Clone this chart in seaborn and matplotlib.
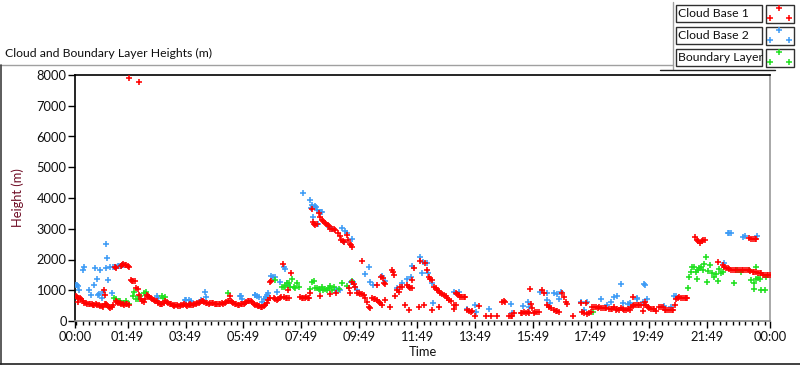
import numpy as np
import pandas as pd
import matplotlib
matplotlib.use("Agg")
import matplotlib.pyplot as plt
from matplotlib.lines import Line2D
from matplotlib.patches import Rectangle
from matplotlib.ticker import FixedLocator, FixedFormatter
import seaborn as sns

# ---- data (time in hours since 00:00, height in m) ----
cb1_t = [0.03, 0.07, 0.12, 0.17, 0.10, 0.22, 0.27, 0.32, 0.37, 0.42, 0.47, 0.52, 0.57, 0.62,
         0.67, 0.72, 0.77, 0.82, 0.87, 0.92, 0.97, 1.02, 1.07, 1.12, 1.17, 1.22, 1.27, 1.32,
         1.00, 1.05,
         1.38, 1.42, 1.58, 1.62, 1.67, 1.72, 1.77, 1.82, 1.85,
         1.40, 1.45, 1.50, 1.55, 1.60, 1.65, 1.70, 1.75, 1.80, 1.85,
         1.87, 2.22,
         1.92, 1.97, 2.02, 2.07, 2.12, 2.17,
         2.22, 2.27, 2.32, 2.37, 2.42, 2.47, 2.52, 2.57, 2.62, 2.67, 2.72, 2.77, 2.82, 2.87,
         2.92, 2.97, 3.02, 3.07, 3.12, 3.17, 3.22, 3.27, 3.32, 3.37, 3.42, 3.47, 3.52, 3.57,
         3.62, 3.67, 3.72, 3.77, 3.82, 3.87, 3.92, 3.97, 4.02, 4.07, 4.12, 4.17, 4.22, 4.27,
         4.32, 4.37, 4.42, 4.47, 4.52, 4.57, 4.62, 4.67, 4.72, 4.77, 4.82, 4.87, 4.92, 4.97,
         5.02, 5.07, 5.12, 5.17, 5.22, 5.27, 5.32, 5.35, 5.37, 5.42, 5.47, 5.52, 5.57, 5.62,
         5.67, 5.72, 5.77, 5.82, 5.87, 5.92, 5.97, 6.02, 6.07, 6.12, 6.17, 6.22, 6.27, 6.32,
         6.37, 6.42, 6.47, 6.52, 6.57, 6.62, 6.67, 6.72, 6.74, 6.78, 6.87, 6.92, 6.97, 7.02,
         7.07, 7.12, 7.17, 7.22, 7.27, 7.32, 7.35, 7.40, 7.46,
         7.78, 7.83, 7.88, 7.93, 7.98, 8.03, 8.07, 8.10,
         8.18, 8.22, 8.27, 8.30, 8.35, 8.41, 8.47, 8.53, 8.58, 8.63, 8.68, 8.73, 8.76, 8.82,
         8.87, 8.93, 8.99, 9.07, 9.14, 9.20, 9.25, 9.30, 9.39, 9.42, 9.48, 9.52, 9.57,
         8.47, 8.80, 9.02, 9.45, 9.50, 9.57, 9.62, 9.68, 9.74, 9.80, 9.85, 9.91, 9.91, 9.97,
         10.03, 10.08, 10.14, 10.20, 10.26, 10.31, 10.37, 10.43, 10.43, 10.49, 10.54, 10.60,
         10.57, 10.62, 10.66, 10.72, 10.72, 10.87, 10.95, 10.99, 11.03, 11.04, 11.12, 11.18,
         11.24, 11.29, 11.38, 11.47, 11.52, 11.58, 11.64, 11.64, 11.55, 11.70, 11.87, 11.93,
         12.04, 12.10, 12.16, 12.22, 12.27, 12.33, 12.33, 12.39, 12.45, 12.50, 12.56, 12.56,
         12.62, 12.68, 12.74, 12.80, 12.86, 12.91, 12.97,
         13.08, 13.14, 13.10, 13.14, 13.20, 13.25, 13.31, 13.37, 13.43, 13.48,
         13.55, 13.60, 13.66, 13.72, 13.83, 13.95, 14.18, 14.35, 14.58, 14.75, 14.80, 14.85,
         14.98, 15.04, 15.10, 15.15, 15.39, 15.45, 15.51, 15.57, 15.63, 15.68, 15.71, 15.75,
         15.79, 15.84, 15.90, 15.96, 16.02, 16.13, 16.19, 16.31, 16.37, 16.45, 16.54, 16.60,
         16.66, 16.72, 16.83, 16.89, 16.94, 17.00, 17.21, 17.46, 17.63, 17.52, 17.58, 17.69,
         17.75, 17.81, 17.87, 17.93, 17.99, 18.05, 18.11, 18.17, 18.23, 18.29, 18.35, 18.44,
         18.50, 18.56, 18.62, 18.68, 18.72, 18.78, 18.85, 18.91, 18.97, 19.03, 19.09, 19.15,
         19.20, 19.26, 19.27, 19.32, 19.37, 19.43, 19.49, 19.55, 19.60, 19.66, 19.70, 19.72,
         19.77, 19.83, 19.89, 19.95, 20.00, 20.06, 20.18, 20.24, 20.30, 20.36, 20.42, 20.48,
         20.54, 20.60, 20.66, 20.72, 20.75, 20.81, 20.87, 20.93, 20.99, 21.05, 21.11, 21.15,
         21.41, 21.47, 21.53, 21.59, 21.65, 21.70, 21.75,
         22.22, 22.37, 22.42, 22.48, 22.54, 22.60, 22.66, 22.72, 22.78, 22.84, 22.90, 22.96,
         23.02, 23.08, 23.14, 23.20, 23.26, 23.32, 23.40, 23.46, 23.52, 23.58, 23.64, 23.70,
         23.76, 23.82, 23.88, 23.94, 23.99,
         23.29, 23.35, 23.41, 23.47, 23.52]
cb1_h = [820, 790, 760, 740, 630, 700, 640, 600, 580, 560, 560, 540, 550, 520,
         530, 560, 520, 510, 500, 480, 470, 540, 560, 510, 460, 430, 450, 520,
         1000, 860,
         1750, 1720, 1800, 1820, 1840, 1830, 1810, 1780, 1760,
         650, 620, 600, 590, 560, 540, 520, 550, 540, 530,
         7890, 7760,
         1320, 1300, 1300, 1290, 1080, 1050,
         850, 700, 650, 630, 700, 860, 820, 780, 760, 720, 680, 650, 640, 600,
         560, 540, 560, 600, 650, 620, 580, 560, 540, 520, 500, 520, 530, 500,
         490, 510, 520, 540, 520, 500, 520, 540, 530, 520, 540, 560, 580, 600,
         620, 650, 640, 620, 600, 580, 560, 580, 600, 580, 560, 550, 560, 540,
         560, 570, 560, 580, 620, 640, 650, 800, 640, 620, 600, 560, 540, 520,
         530, 540, 550, 560, 580, 620, 650, 660, 640, 620, 560, 520, 520, 500,
         480, 470, 460, 480, 520, 600, 680, 740, 1280, 1310, 740, 700, 680, 720,
         740, 770, 1840, 780, 760, 750, 1010, 760, 1550,
         780, 760, 740, 750, 770, 760, 740, 920,
         3630, 3230, 3150, 3120, 3140, 3500, 3390, 3300, 3250, 3200, 3170, 3130, 3100, 2990,
         2980, 2980, 2970, 2870, 2760, 2640, 2600, 2580, 2800, 2630, 2520, 2460, 2410,
         810, 880, 900, 1060, 920, 1280, 1200, 1120, 920, 900, 880, 890, 1950, 850,
         740, 630, 470, 410, 740, 720, 700, 680, 1160, 630, 580, 520,
         1440, 1390, 1220, 1200, 680, 470, 1660, 1580, 1500, 810, 1010, 950,
         1120, 1110, 520, 1170, 1110, 1080, 1060, 1330, 360, 1710, 470, 1940,
         520, 1870, 1660, 1440, 1380, 1330, 360, 1120, 1060, 1000, 960, 470,
         920, 880, 850, 800, 740, 680, 650,
         520, 520, 380, 900, 880, 850, 790, 790, 790, 780,
         360, 330, 300, 310, 160, 490, 160, 160, 160, 630, 640, 630,
         160, 160, 160, 250, 260, 250, 280, 270, 300, 260, 1030, 550,
         430, 270, 290, 280, 300, 1010, 900, 520, 470, 430, 360, 330,
         310, 300, 920, 790, 630, 550, 160, 570, 600, 300, 260, 230,
         250, 300, 470, 450, 440, 430, 440, 420, 430, 420, 410, 380,
         390, 380, 470, 370, 380, 360, 410, 380, 370, 360, 380, 360,
         440, 480, 790, 520, 520, 510, 520, 520, 340, 520, 630, 520,
         440, 420, 400, 380, 380, 340, 440, 450, 440, 360, 360, 350,
         360, 360, 370, 520, 700, 740, 770, 760, 750, 760, 750, 750,
         2720, 2640, 2600, 2550, 2600, 2630, 2650,
         1930, 1820, 1770, 1730, 1710, 1680, 1670, 1660, 1660, 1650, 1660, 1660,
         1650, 1660, 1650, 1650, 1660, 1640, 1600, 1590, 1580, 1570, 1560, 1550,
         1510, 1500, 1490, 1480, 1500,
         2700, 2680, 2670, 2660, 2660]

cb2_t = [0.03, 0.08, 0.12, 0.15, 0.27, 0.32, 0.50, 0.55, 0.66, 0.69, 0.75, 0.78, 0.82, 0.86,
         0.92, 0.98, 1.07, 1.07, 1.12, 1.15, 1.20, 1.27, 1.32, 1.38, 1.43, 1.48, 1.53, 1.58,
         1.63, 1.67,
         2.82, 2.88, 3.80, 3.85, 3.95, 4.00, 4.35, 4.50, 4.52, 5.70, 5.73, 5.75,
         6.20, 6.22, 6.28, 6.34, 6.45, 6.52, 6.58, 6.63, 6.68, 6.78, 6.84, 6.91, 6.97, 7.09,
         7.20, 7.24, 7.32, 7.37, 7.89, 8.12, 8.15, 8.18, 8.22, 8.30, 8.33, 8.36, 8.39, 8.45,
         8.50, 8.53, 8.76, 8.88, 8.99, 9.05, 9.16, 9.22, 9.28, 9.33, 9.39, 9.57, 9.52, 9.60,
         9.68, 9.75, 10.00, 10.14, 10.18, 10.29, 10.60, 10.70, 11.12, 11.29, 11.47, 11.61,
         11.64, 11.90, 11.99, 12.02, 12.14, 12.18, 12.33, 12.37,
         13.08, 13.25, 13.54, 13.83, 13.86, 14.29, 15.04, 15.10, 15.48, 15.64, 15.68, 16.05,
         16.29, 16.31, 16.42, 16.54, 16.65, 16.71, 16.77, 17.46, 17.57, 17.69, 18.15, 18.38,
         18.50, 18.61, 18.71, 18.85, 18.94, 19.08, 19.17, 19.40, 19.42, 19.63, 19.66, 19.70,
         19.75, 20.35, 20.58, 20.70, 20.74,
         22.40, 22.54, 22.60, 22.65, 23.06, 23.12, 23.55]
cb2_h = [1170, 1160, 1150, 1000, 1650, 1760, 1000, 850, 1180, 1720, 1360, 850, 880, 1660,
         760, 950, 2500, 1720, 2040, 1330, 1740, 900, 1750, 1760, 1770, 1780, 1790, 1800,
         1820, 1810,
         800, 760, 690, 680, 670, 660, 680, 930, 780, 820, 800, 720,
         850, 840, 800, 770, 630, 700, 780, 850, 900, 1460, 1440, 1420, 950, 1280,
         1740, 1690, 1220, 1170, 4150, 3930, 3690, 3770, 3370, 3730, 3700, 3610, 3170, 3550,
         3560, 3540, 3070, 2980, 1010, 1010, 1010, 3010, 2580, 2940, 2850, 2660, 1280, 1280,
         1120, 1010, 1520, 1740, 1280, 1170, 1460, 1290, 1060, 1250, 1350, 1440,
         1790, 2070, 1550, 1930, 1870, 1570, 1220, 580,
         950, 950, 380, 520, 300, 380, 550, 270, 490, 630, 440, 950,
         920, 680, 600, 900, 880, 700, 950, 630, 360, 630, 700, 520,
         630, 790, 820, 1200, 600, 560, 570, 720, 740, 630, 1200, 1180,
         710, 490, 440, 810, 820,
         1870, 2870, 2870, 2860, 2740, 2760, 2760]

bl_t = [1.35, 1.40, 1.52, 1.57, 1.70, 1.75, 1.85, 2.00, 2.05, 2.12, 2.17, 2.25, 2.37, 2.45,
        3.00, 3.05, 3.10, 5.27,
        6.91, 7.14, 7.20, 7.26, 7.32, 7.38, 7.43, 7.49, 7.55, 7.60, 7.66, 7.72, 8.10, 8.18,
        8.24, 8.30, 8.35, 8.41, 8.47, 8.53, 8.58, 8.64, 8.70, 8.76, 8.82, 8.87, 8.93, 9.10,
        9.22, 9.39, 9.57, 17.90,
        21.18, 21.21, 21.27, 21.30, 21.36, 21.44, 21.48, 21.52, 21.56, 21.62, 21.67, 21.71,
        21.79, 21.82, 21.87, 21.94, 21.98, 22.08, 22.13, 22.19, 22.25, 22.31, 22.36, 22.77,
        22.86, 23.00, 23.29, 23.35, 23.44, 23.46, 23.52, 23.50, 23.58, 23.67, 23.69, 23.83,
        23.86]
bl_h = [750, 700, 650, 650, 600, 650, 560, 820, 950, 700, 700, 800, 900, 950,
        800, 750, 780, 900,
        1330, 1090, 1120, 1150, 1250, 1250, 1100, 1350, 1120, 1060, 1250, 1090, 1030, 1280,
        1310, 1080, 1060, 1050, 1000, 1100, 1020, 1040, 1000, 1060, 1150, 1010, 1100, 1030,
        1220, 1140, 1310, 300,
        1080, 1440, 1600, 1760, 1760, 1600, 1350, 1660, 1710, 1760, 1660, 1850,
        2070, 1280, 1640, 1820, 1570, 1420, 1530, 1310, 1680, 1550, 1600, 1220,
        1660, 1600, 1660, 1330, 1220, 1030, 1760, 1350, 1390, 1350, 1010, 1010,
        1420]

series = ["Cloud Base 1", "Cloud Base 2", "Boundary Layer"]
colors = {"Cloud Base 1": "#ff0000", "Cloud Base 2": "#3d9bf5", "Boundary Layer": "#1fe01f"}

tick_hours = [0, 1 + 49 / 60] + [h + 49 / 60 for h in range(3, 22, 2)] + [24]
tick_labels = ["00:00", "01:49", "03:49", "05:49", "07:49", "09:49", "11:49",
               "13:49", "15:49", "17:49", "19:49", "21:49", "00:00"]

df = pd.concat([
    pd.DataFrame({"t": cb1_t, "h": cb1_h, "s": "Cloud Base 1"}),
    pd.DataFrame({"t": cb2_t, "h": cb2_h, "s": "Cloud Base 2"}),
    pd.DataFrame({"t": bl_t, "h": bl_h, "s": "Boundary Layer"}),
])

sns.set_style("white")
plt.rcParams["font.family"] = ["Lato", "DejaVu Sans"]
FS = 8.8

W, H = 800, 365
fig = plt.figure(figsize=(W / 100, H / 100), dpi=100)
fig.patch.set_facecolor("white")


def fx(x):
    return x / W


def fy(y):
    return 1 - y / H


ax = fig.add_axes([fx(75), fy(321), (770 - 75) / W, (321 - 75) / H])

# draw order: blue, green, red on top
for name in ["Cloud Base 2", "Boundary Layer", "Cloud Base 1"]:
    sns.scatterplot(data=df[df["s"] == name], x="t", y="h", ax=ax, marker="+",
                    color=colors[name], s=14, linewidth=1.15, legend=False, zorder=3)

ax.set_xlim(0, 24)
ax.set_ylim(0, 8000)
ax.xaxis.set_major_locator(FixedLocator(tick_hours))
ax.xaxis.set_major_formatter(FixedFormatter(tick_labels))
minor = [1 + 49 / 60 + k * 2 / 9 for k in range(-8, 100)]
ax.xaxis.set_minor_locator(FixedLocator([m for m in minor if 0 <= m <= 24]))
ax.set_yticks(range(0, 8001, 1000))
ax.tick_params(axis="x", which="major", direction="out", length=5, width=1,
               color="black", labelsize=FS + 0.5, pad=2, bottom=True)
ax.tick_params(axis="x", which="minor", direction="out", length=3, width=1,
               color="black", bottom=True)
ax.tick_params(axis="y", which="major", direction="out", length=5, width=1,
               color="black", labelsize=FS + 0.5, pad=1, left=True)
for lab in ax.get_xticklabels() + ax.get_yticklabels():
    lab.set_color("#101010")

ax.spines["left"].set_color("black")
ax.spines["top"].set_color("black")
ax.spines["right"].set_color("#9a9a9a")
ax.spines["bottom"].set_color("#8a8a8a")
for sp in ax.spines.values():
    sp.set_linewidth(1.2)

ax.set_xlabel("Time", fontsize=FS + 0.5, color="#101010", labelpad=2)
ax.set_ylabel("Height (m)", fontsize=FS + 0.5, color="#6e0b24", labelpad=9)

# chart title and frame
fig.text(fx(5), fy(53), "Cloud and Boundary Layer Heights (m)", fontsize=FS,
         va="center", ha="left", color="#101010")
fig.add_artist(Line2D([fx(0), fx(673)], [fy(65), fy(65)], color="#a0a0a0", lw=1))
fig.add_artist(Line2D([fx(673), fx(673)], [fy(2), fy(69)], color="#a0a0a0", lw=1))
fig.add_artist(Line2D([fx(660), fx(775)], [fy(69.5), fy(69.5)], color="#202020", lw=1))
fig.add_artist(Line2D([fx(0.5), fx(0.5)], [fy(65), fy(364)], color="#404040", lw=1.2))
fig.add_artist(Line2D([fx(0), fx(800)], [fy(364), fy(364)], color="#202020", lw=1.2))

# legend drawn as LabVIEW-style boxes
rows = [5, 27, 49]
for name, top in zip(series, rows):
    fig.add_artist(Rectangle((fx(676), fy(top + 17)), 86 / W, 17 / H, transform=fig.transFigure,
                             facecolor="white", edgecolor="#303030", lw=1))
    fig.text(fx(678.5), fy(top + 8.5), name, fontsize=FS, va="center", ha="left",
             color="#101010")
    fig.add_artist(Rectangle((fx(766), fy(top + 18)), 28 / W, 18 / H, transform=fig.transFigure,
                             facecolor="white", edgecolor="#303030", lw=1))
    for mx, my in [(779, top + 3), (770, top + 13), (789, top + 13)]:
        fig.add_artist(Line2D([fx(mx)], [fy(my)], marker="+", markersize=4.2, mew=1.1,
                              color=colors[name], linestyle="none"))

fig.savefig("out.png", dpi=100)
